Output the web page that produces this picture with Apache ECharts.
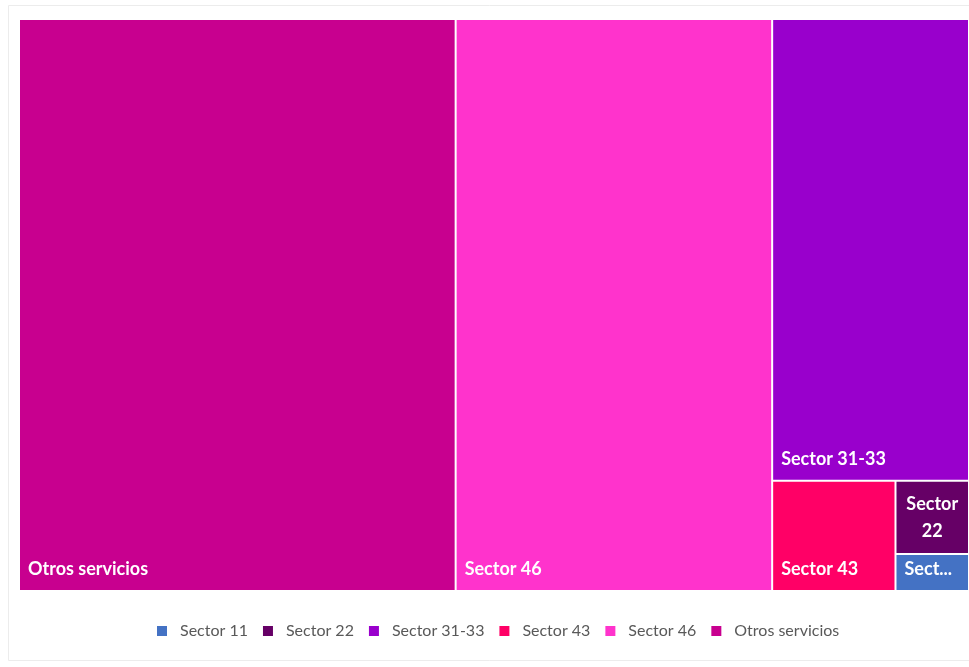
<!DOCTYPE html>
<html>
<head>
<meta charset="utf-8">
<script src="https://cdn.jsdelivr.net/npm/echarts@6/dist/echarts.min.js"></script>
<style>
html,body{margin:0;padding:0;background:#fff;}
#chart{width:969px;height:667px;}
</style>
</head>
<body>
<div id="chart"></div>
<script>
// Data (share of total)
const sectors = ['Sector 11', 'Sector 22', 'Sector 31-33', 'Sector 43', 'Sector 46', 'Otros servicios'];
const values = [0.50, 0.99, 16.72, 2.50, 33.30, 45.94];
const colors = ['#4472C4', '#660066', '#9900CC', '#FF0066', '#FF33CC', '#C8008F'];
// sectors drawn together in the right-hand column
const rightGroup = ['Sector 31-33', 'Sector 43', 'Sector 22', 'Sector 11'];

const FONT = 'Lato';

function leaf(name) {
  const i = sectors.indexOf(name);
  const node = { name: name, value: values[i], itemStyle: { color: colors[i] } };
  if (name === 'Sector 22') {
    node.label = {
      position: 'inside', align: 'center', verticalAlign: 'middle',
      formatter: 'Sector\n22', lineHeight: 27, padding: [4, 0, 0, 0]
    };
  }
  if (name === 'Sector 11') {
    // label truncated as in the original
    node.label = { formatter: (p) => p.name.slice(0, 4) + '...' };
  }
  return node;
}

const groupChildren = rightGroup.map(leaf);
const groupValue = groupChildren.reduce((s, d) => s + d.value, 0);
const treeData = [
  leaf('Otros servicios'),
  leaf('Sector 46'),
  {
    name: 'grupo', value: groupValue,
    itemStyle: { color: 'rgba(0,0,0,0)', borderWidth: 0, gapWidth: 2 },
    label: { show: false }, upperLabel: { show: false },
    children: groupChildren
  }
];

const chart = echarts.init(document.getElementById('chart'));
chart.setOption({
  backgroundColor: '#ffffff',
  animation: false,
  graphic: [{
    type: 'rect', silent: true, z: -1,
    shape: { x: 8.5, y: 5.5, width: 975, height: 655 },
    style: { fill: 'none', stroke: '#ececec', lineWidth: 1 }
  }],
  legend: {
    left: 152, top: 618,
    icon: 'rect', itemWidth: 10, itemHeight: 10, itemGap: 15,
    selectedMode: false,
    data: sectors,
    textStyle: { color: '#595959', fontSize: 16, fontFamily: FONT, padding: [0, 0, 0, 8] }
  },
  series: [
    {
      type: 'treemap',
      left: 20, top: 20, width: 948, height: 570,
      roam: false, nodeClick: false,
      squareRatio: 1.48,
      breadcrumb: { show: false },
      itemStyle: { borderWidth: 0, gapWidth: 2, borderColor: '#ffffff' },
      label: {
        show: true, position: 'insideBottomLeft', distance: 8,
        color: '#ffffff', fontFamily: FONT, fontWeight: 'bold', fontSize: 18,
        overflow: 'truncate', ellipsis: '...',
        padding: [0, 0, 4, 0]
      },
      upperLabel: { show: false },
      data: treeData
    },
    {
      type: 'pie', silent: true,
      radius: [0, 0], center: [-50, -50],
      label: { show: false }, labelLine: { show: false },
      data: sectors.map((n, i) => ({ name: n, value: values[i], itemStyle: { color: colors[i] } }))
    }
  ]
});
</script>
</body>
</html>
